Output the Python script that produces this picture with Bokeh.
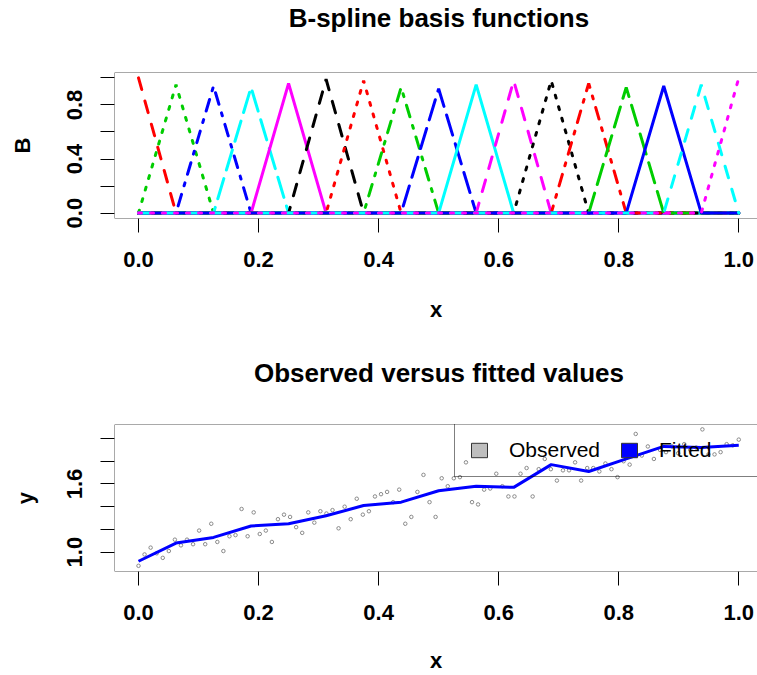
from bokeh.plotting import figure
from bokeh.models import (Range1d, FixedTicker, Span, Legend, LegendItem,
                          ColumnDataSource)
from bokeh.core.properties import value
from bokeh.layouts import column
from bokeh.embed import file_html
from bokeh.resources import INLINE

FONT = "Liberation Sans"

# ---------------- data ----------------
titles = ["B-spline basis functions", "Observed versus fitted values"]

knots = [0.0, 0.0625, 0.125, 0.1875, 0.25, 0.3125, 0.375, 0.4375, 0.5,
         0.5625, 0.625, 0.6875, 0.75, 0.8125, 0.875, 0.9375, 1.0]
peak_heights = [1.0, 0.95, 0.94, 0.93, 0.96, 0.99, 0.98, 0.93, 0.92,
                0.95, 0.98, 0.98, 0.96, 0.93, 0.94, 0.95, 1.0]
basis_colors = ["black", "red", "#00CD00", "blue", "cyan", "magenta"]
basis_dashes = ["solid", "12 12", "3 9", "3 9 12 9", "21 9"]

x_ticks = [0.0, 0.2, 0.4, 0.6, 0.8, 1.0]
x_tick_labels = ["0.0", "0.2", "0.4", "0.6", "0.8", "1.0"]
b_ticks = [0.0, 0.2, 0.4, 0.6, 0.8, 1.0]
b_tick_labels = ["0.0", "", "0.4", "", "0.8", ""]
y_ticks = [1.0, 1.2, 1.4, 1.6, 1.8, 2.0]
y_tick_labels = ["1.0", "", "", "1.6", "", ""]

obs_x = [0.0000, 0.0101, 0.0202, 0.0303, 0.0404, 0.0505, 0.0606, 0.0707, 0.0808, 0.0909,
         0.1010, 0.1111, 0.1212, 0.1313, 0.1414, 0.1515, 0.1616, 0.1717, 0.1818, 0.1919,
         0.2020, 0.2121, 0.2222, 0.2323, 0.2424, 0.2525, 0.2626, 0.2727, 0.2828, 0.2929,
         0.3030, 0.3131, 0.3232, 0.3333, 0.3434, 0.3535, 0.3636, 0.3737, 0.3838, 0.3939,
         0.4040, 0.4141, 0.4242, 0.4343, 0.4444, 0.4545, 0.4646, 0.4747, 0.4848, 0.4949,
         0.5051, 0.5152, 0.5253, 0.5354, 0.5455, 0.5556, 0.5657, 0.5758, 0.5859, 0.5960,
         0.6061, 0.6162, 0.6263, 0.6364, 0.6465, 0.6566, 0.6667, 0.6768, 0.6869, 0.6970,
         0.7071, 0.7172, 0.7273, 0.7374, 0.7475, 0.7576, 0.7677, 0.7778, 0.7879, 0.7980,
         0.8081, 0.8182, 0.8283, 0.8384, 0.8485, 0.8586, 0.8687, 0.8788, 0.8889, 0.8990,
         0.9091, 0.9192, 0.9293, 0.9394, 0.9495, 0.9596, 0.9697, 0.9798, 0.9899, 1.0000]
obs_y = [0.88, 0.98, 1.04, 0.99, 0.95, 1.01, 1.11, 1.06, 1.11, 1.07,
         1.19, 1.07, 1.25, 1.09, 1.01, 1.14, 1.15, 1.38, 1.14, 1.35,
         1.16, 1.19, 1.09, 1.29, 1.33, 1.31, 1.22, 1.17, 1.35, 1.26,
         1.36, 1.34, 1.37, 1.21, 1.40, 1.29, 1.47, 1.33, 1.36, 1.49,
         1.51, 1.53, 1.44, 1.55, 1.25, 1.31, 1.53, 1.68, 1.44, 1.31,
         1.65, 1.58, 1.65, 1.66, 1.79, 1.44, 1.42, 1.55, 1.56, 1.69,
         1.58, 1.49, 1.49, 1.69, 1.74, 1.49, 1.73, 1.82, 1.73, 1.63,
         1.72, 1.72, 1.79, 1.63, 1.74, 1.74, 1.71, 1.78, 1.73, 1.66,
         1.80, 1.77, 2.04, 1.85, 1.93, 1.82, 1.90, 1.88, 1.93, 1.87,
         1.95, 1.90, 1.92, 2.08, 1.86, 1.86, 1.88, 1.95, 1.94, 1.99]
fit_x = knots
fit_y = [0.92, 1.08, 1.13, 1.23, 1.25, 1.32, 1.41, 1.44, 1.54,
         1.58, 1.57, 1.77, 1.71, 1.82, 1.93, 1.92, 1.94]

legend_labels = ["Observed", "Fitted"]
legend_fills = ["#BEBEBE", "blue"]

# ---------------- layout constants ----------------
W = 757
X0, X1 = -0.04, 1.0312
BOX = "#555555"


def title_fig(text, height, y_pos, center_x):
    t = figure(width=W, height=height, output_backend="svg", toolbar_location=None,
               x_range=Range1d(0, W), y_range=Range1d(0, height),
               min_border=0, x_axis_type=None, y_axis_type=None)
    t.outline_line_color = None
    t.xgrid.visible = False
    t.ygrid.visible = False
    t.text(x=[center_x], y=[y_pos], text=[text],
           text_align="center", text_baseline="alphabetic",
           text_font=value(FONT), text_font_style="bold",
           text_font_size="26px", text_color="black")
    return t


def style_axes(p, yt, ylabels, ylab, ylab_standoff, xlab_standoff):
    p.xgrid.visible = False
    p.ygrid.visible = False
    p.outline_line_color = None
    for ax in (p.xaxis[0], p.yaxis[0]):
        ax.axis_line_color = None
        ax.major_tick_in = 0
        ax.major_tick_out = 14
        ax.major_tick_line_color = "black"
        ax.minor_tick_line_color = None
        ax.major_label_text_font = FONT
        ax.major_label_text_font_style = "bold"
        ax.major_label_text_font_size = "22px"
        ax.major_label_text_color = "black"
        ax.axis_label_text_font = FONT
        ax.axis_label_text_font_style = "bold"
        ax.axis_label_text_font_size = "22px"
        ax.axis_label_text_color = "black"
    xa = p.xaxis[0]
    xa.ticker = FixedTicker(ticks=x_ticks)
    xa.major_label_overrides = dict(zip(x_ticks, x_tick_labels))
    xa.major_label_standoff = 19
    xa.axis_label = "x"
    xa.axis_label_standoff = xlab_standoff
    ya = p.yaxis[0]
    ya.ticker = FixedTicker(ticks=yt)
    ya.major_label_overrides = dict(zip(yt, ylabels))
    ya.major_label_orientation = "vertical"
    ya.major_label_standoff = 18
    ya.axis_label = ylab
    ya.axis_label_standoff = ylab_standoff


def add_box(p):
    yr = p.y_range
    p.add_layout(Span(location=X0, dimension="height", line_color=BOX, line_width=1))
    p.add_layout(Span(location=yr.start, dimension="width", line_color=BOX, line_width=1))
    p.add_layout(Span(location=yr.end, dimension="width", line_color=BOX, line_width=1))


# ---------------- top: basis functions ----------------
t1 = title_fig(titles[0], 38, 21, 382)
p1 = figure(width=W, height=300, output_backend="svg", toolbar_location=None,
            x_range=Range1d(X0, X1), y_range=Range1d(-0.04, 1.04),
            min_border_left=114, min_border_right=0, min_border_top=34,
            min_border_bottom=120)
style_axes(p1, b_ticks, b_tick_labels, "B", 30, 27)

n = len(knots)
for j in range(n):
    xs, ys = [], []
    if j > 0:
        xs += [knots[0], knots[j - 1]]
        ys += [0.0, 0.0]
    xs.append(knots[j])
    ys.append(peak_heights[j])
    if j < n - 1:
        xs += [knots[j + 1], knots[-1]]
        ys += [0.0, 0.0]
    p1.line(xs, ys, line_color=basis_colors[(j + 1) % 6],
            line_dash=basis_dashes[(j + 1) % 5], line_width=3, line_cap="round")

add_box(p1)

# ---------------- bottom: observed vs fitted ----------------
t2 = title_fig(titles[1], 56, 22, 382)
p2 = figure(width=W, height=281, output_backend="svg", toolbar_location=None,
            x_range=Range1d(X0, X1), y_range=Range1d(0.830, 2.123),
            min_border_left=114, min_border_right=0, min_border_top=30,
            min_border_bottom=104)
style_axes(p2, y_ticks, y_tick_labels, "y", 27, 25)

p2.scatter(obs_x, obs_y, marker="circle", size=3.5, fill_color=None,
           line_color="#8a8a8a", line_width=1)
p2.line(fit_x, fit_y, line_color="blue", line_width=3)

# legend swatches: invisible zero-size quads anchored on the first fitted value
items = []
for lab, col in zip(legend_labels, legend_fills):
    src = ColumnDataSource(dict(l=fit_x[:1], r=fit_x[:1], t=fit_y[:1], b=fit_y[:1]))
    r = p2.quad(left="l", right="r", top="t", bottom="b", source=src,
                fill_color=col, line_color="#333333", line_width=1)
    r.visible = False
    items.append(LegendItem(label=lab, renderers=[r]))

legend = Legend(items=items, location=(340, 94), orientation="horizontal", margin=0,
                padding=14, spacing=15, glyph_width=20, glyph_height=18,
                label_standoff=20, label_width=95,
                label_text_font=FONT, label_text_font_size="21px",
                label_text_color="black",
                background_fill_alpha=0.0, border_line_color="black",
                border_line_width=1, click_policy="none")
p2.add_layout(legend, "center")

add_box(p2)

layout = column(t1, p1, t2, p2, spacing=0)
open("out.html", "w").write(file_html(layout, INLINE))
